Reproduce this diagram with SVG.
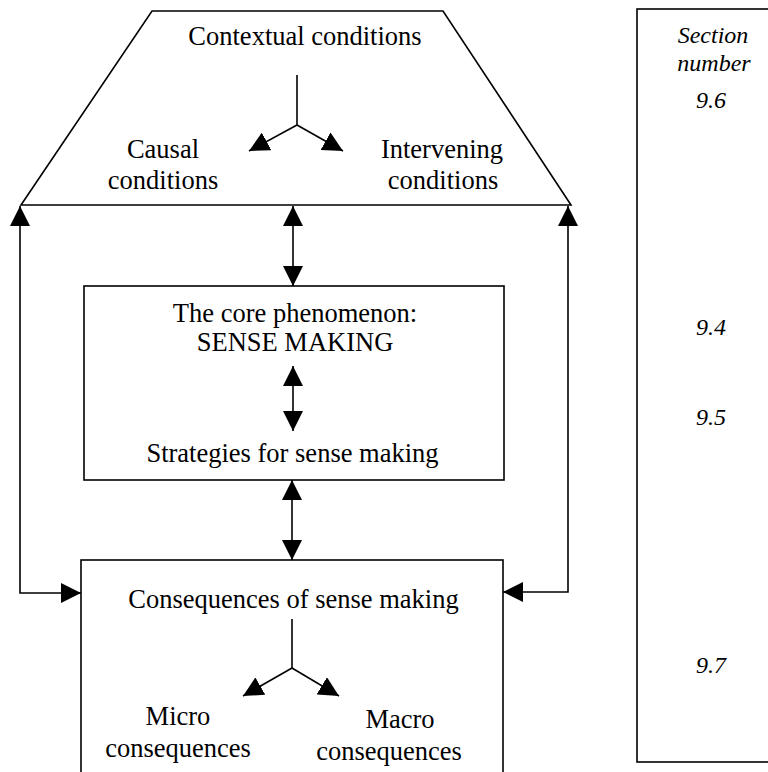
<svg xmlns="http://www.w3.org/2000/svg" width="768" height="772" viewBox="0 0 768 772">
  <style>
    .shape { fill: none; stroke: #000; stroke-width: 1.6; }
    .conn { fill: none; stroke: #000; stroke-width: 1.6; }
    .lbl { font-family: "Liberation Serif", "Times New Roman", serif; font-size: 26.5px; fill: #000; text-anchor: middle; }
    .sec { font-family: "Liberation Serif", "Times New Roman", serif; font-style: italic; font-size: 24px; fill: #000; text-anchor: middle; }
  </style>
  <defs>
    <marker id="arrow" viewBox="0 0 20 20" refX="20" refY="10" markerWidth="20" markerHeight="20" markerUnits="userSpaceOnUse" orient="auto-start-reverse">
      <path d="M0,0 L20,10 L0,20 z" fill="#000"/>
    </marker>
  </defs>
  <rect width="768" height="772" fill="#fff"/>

  <!-- Contextual conditions (trapezoid) -->
  <g id="contextual">
    <polygon class="shape" points="152,11 443,11 571,205 21,205"/>
    <text class="lbl" x="305" y="45">Contextual conditions</text>
    <text class="lbl" x="163" y="158">Causal</text>
    <text class="lbl" x="163" y="189">conditions</text>
    <text class="lbl" x="442" y="158">Intervening</text>
    <text class="lbl" x="443" y="189">conditions</text>
  </g>

  <!-- Core phenomenon -->
  <g id="core">
    <rect class="shape" x="84" y="286" width="420" height="194"/>
    <text class="lbl" x="295" y="322">The core phenomenon:</text>
    <text class="lbl" x="295" y="351">SENSE MAKING</text>
    <text class="lbl" x="292.5" y="462">Strategies for sense making</text>
  </g>

  <!-- Consequences -->
  <g id="consequences">
    <rect class="shape" x="81" y="560" width="422" height="240"/>
    <text class="lbl" x="293.5" y="608">Consequences of sense making</text>
    <text class="lbl" x="178" y="725">Micro</text>
    <text class="lbl" x="178" y="757">consequences</text>
    <text class="lbl" x="400" y="728">Macro</text>
    <text class="lbl" x="389" y="760">consequences</text>
  </g>

  <!-- Section number column -->
  <g id="sections">
    <rect class="shape" x="637" y="9" width="200" height="753"/>
    <text class="sec" x="713" y="43">Section</text>
    <text class="sec" x="714" y="71">number</text>
    <text class="sec" x="711" y="108">9.6</text>
    <text class="sec" x="711" y="335">9.4</text>
    <text class="sec" x="711" y="425">9.5</text>
    <text class="sec" x="711" y="673">9.7</text>
  </g>

  <!-- Connectors -->
  <g id="connectors">
    <!-- contextual split -->
    <line class="conn" x1="297" y1="75" x2="297" y2="125"/>
    <line class="conn" x1="297" y1="125" x2="249" y2="151" marker-end="url(#arrow)"/>
    <line class="conn" x1="297" y1="125" x2="343" y2="151" marker-end="url(#arrow)"/>
    <!-- contextual <-> core -->
    <line class="conn" x1="293" y1="206" x2="293" y2="286" marker-start="url(#arrow)" marker-end="url(#arrow)"/>
    <!-- sense making <-> strategies -->
    <line class="conn" x1="293" y1="366" x2="293" y2="431" marker-start="url(#arrow)" marker-end="url(#arrow)"/>
    <!-- core <-> consequences -->
    <line class="conn" x1="292" y1="480" x2="292" y2="560" marker-start="url(#arrow)" marker-end="url(#arrow)"/>
    <!-- outer loops -->
    <polyline class="conn" points="81,593 20,593 20,206" marker-start="url(#arrow)" marker-end="url(#arrow)"/>
    <polyline class="conn" points="503,592 568,592 568,206" marker-start="url(#arrow)" marker-end="url(#arrow)"/>
    <!-- consequences split -->
    <line class="conn" x1="292" y1="619" x2="292" y2="668"/>
    <line class="conn" x1="292" y1="668" x2="243" y2="696" marker-end="url(#arrow)"/>
    <line class="conn" x1="292" y1="668" x2="339" y2="696" marker-end="url(#arrow)"/>
  </g>
</svg>
